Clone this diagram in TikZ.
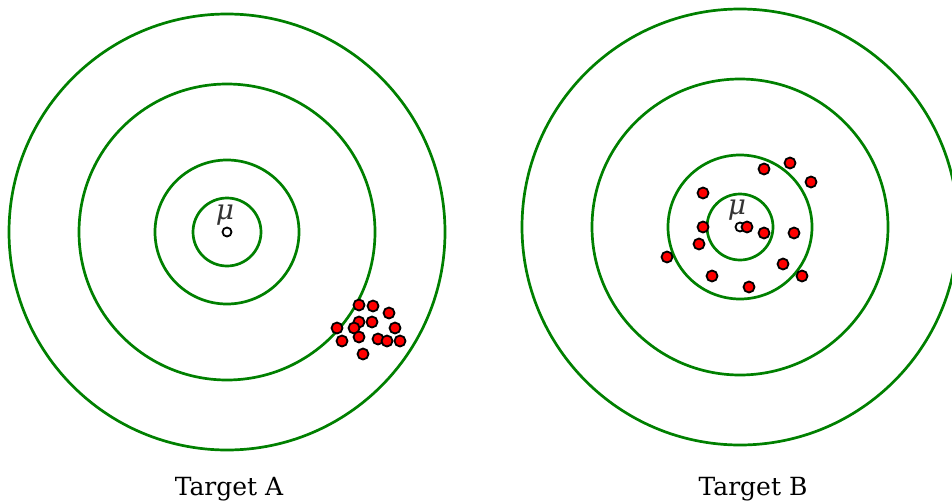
\documentclass[tikz,border=0pt]{standalone}
\usepackage{fontspec}
\setmainfont{DejaVu Serif}
\usetikzlibrary{positioning}
\definecolor{ringgreen}{RGB}{0,128,0}
\definecolor{shotred}{RGB}{255,0,0}

\begin{document}
\begin{tikzpicture}[
    x=1pt, y=-1pt,
    ring/.style={draw=ringgreen, line width=2.7pt},
    shot/.style={circle, draw=black, fill=shotred, line width=1.8pt, inner sep=0pt, minimum size=11pt},
    centre/.style={circle, draw=black, fill=white, line width=1.8pt, inner sep=0pt, minimum size=9pt},
    mulabel/.style={inner sep=0pt, font=\fontsize{28}{32}\selectfont\itshape, text=black!80},
    caption/.style={anchor=base, inner sep=0pt, font=\fontsize{25}{30}\selectfont}
]
    \useasboundingbox (0,0) rectangle (952,503);
    \clip (0,0) rectangle (952,503);

    % Target A
    \coordinate (centerA) at (227,232);
    \foreach \r in {218,148,72,34}
        \draw [ring] (centerA) circle (\r);
    \node (cA) [centre] at (centerA) {};
    \node (muA) [mulabel, above=1pt of cA, xshift=-2pt] {μ};
    \foreach \x/\y in {359/305, 373/306, 389/313, 337/328, 359/322, 372/322, 354/328,
                       395/328, 359/337, 342/341, 378/339, 387/341, 400/341, 363/354}
        \node [shot] at (\x,\y) {};

    % Target B
    \coordinate (centerB) at (740,227);
    \foreach \r in {218,148,72,33}
        \draw [ring] (centerB) circle (\r);
    \foreach \x/\y in {764/169, 790/163, 811/182, 703/193, 703/227, 764/233, 794/233,
                       699/244, 667/257, 783/264, 802/276, 712/276, 749/287}
        \node [shot] at (\x,\y) {};
    \node (cB) [centre] at (centerB) {};
    \node [shot] at (747,227) {};
    \node (muB) [mulabel, above=1pt of cB, xshift=-3pt] {μ};

    % Captions
    \node (labelA) [caption] at (229,495) {Target A};
    \node (labelB) [caption] at (753,495) {Target B};
\end{tikzpicture}
\end{document}
